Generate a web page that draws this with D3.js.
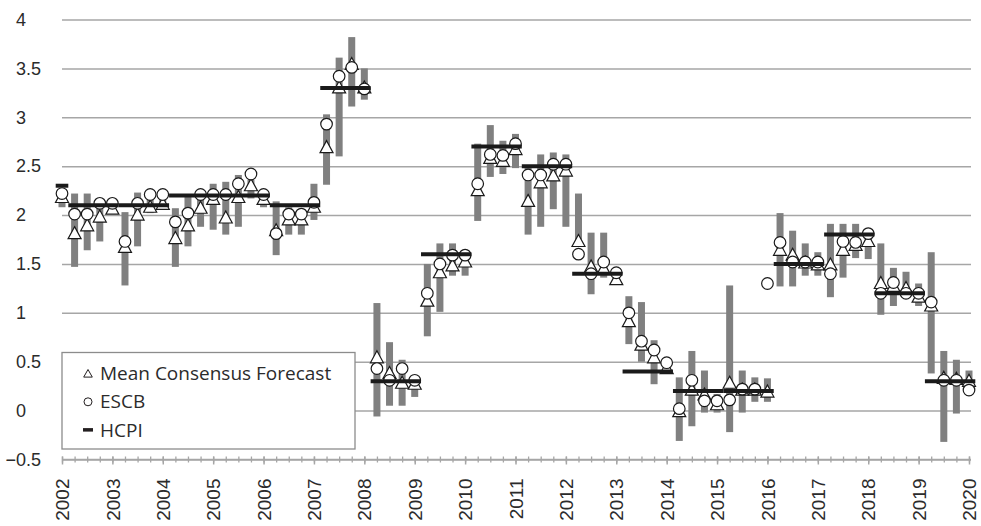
<!DOCTYPE html>
<html>
<head>
<meta charset="utf-8">
<script src="https://cdn.jsdelivr.net/npm/d3@7"></script>
<style>
  body { margin: 0; background: #fff; }
  svg { font-family: "Open Sans", sans-serif; }
</style>
</head>
<body>
<svg id="chart" width="981" height="526"></svg>
<script>
// years shown on the x axis, one forecast per quarter in between
const years = [2002, 2003, 2004, 2005, 2006, 2007, 2008, 2009, 2010, 2011,
  2012, 2013, 2014, 2015, 2016, 2017, 2018, 2019, 2020]
const quarterSteps = [0, 0.25, 0.5, 0.75]
const quarters = years.flatMap((yr) => yr === 2020 ? [yr] : quarterSteps.map((q) => yr + q))

const yTicks = [-0.5, 0, 0.5, 1, 1.5, 2, 2.5, 3, 3.5, 4]

// Mean Consensus Forecast (triangles), 2002Q1 .. 2020Q1
const mcf = [
  2.19, 1.82, 1.90, 1.99, 2.07, 1.68, 2.01, 2.09, 2.12, 1.77, 1.90, 2.08,
  2.17, 1.98, 2.19, 2.31, 2.17, 1.85, 1.96, 1.96, 2.09, 2.70, 3.31, 3.55,
  3.31, 0.55, 0.39, 0.29, 0.28, 1.13, 1.42, 1.49, 1.53, 2.26, 2.59, 2.56,
  2.68, 2.15, 2.34, 2.41, 2.46, 1.74, 1.48, 1.46, 1.35, 0.92, 0.68, 0.55,
  0.44, 0.00, 0.22, 0.17, 0.07, 0.29, 0.22, 0.22, 0.20, 1.65, 1.60, 1.52,
  1.50, 1.50, 1.65, 1.70, 1.74, 1.31, 1.28, 1.26, 1.17, 1.08, 0.34, 0.33,
  0.31
]

// ESCB projections (circles)
const escb = [
  2.22, 2.01, 2.01, 2.12, 2.12, 1.73, 2.12, 2.21, 2.21, 1.93, 2.02, 2.21,
  2.21, 2.21, 2.32, 2.42, 2.21, 1.81, 2.01, 2.01, 2.13, 2.93, 3.42, 3.51,
  3.29, 0.43, 0.31, 0.43, 0.31, 1.20, 1.50, 1.59, 1.59, 2.32, 2.62, 2.61,
  2.73, 2.41, 2.41, 2.52, 2.52, 1.60, 1.40, 1.52, 1.41, 1.00, 0.71, 0.62,
  0.49, 0.02, 0.31, 0.10, 0.10, 0.11, 0.22, 0.22, 1.30, 1.72, 1.52, 1.52,
  1.52, 1.40, 1.73, 1.72, 1.81, 1.20, 1.31, 1.20, 1.20, 1.11, 0.31, 0.31,
  0.21
]

// range of consensus forecasts (grey bars)
const rangeLow = [
  2.08, 1.47, 1.64, 1.73, 2.02, 1.28, 1.68, 2.02, 2.08, 1.47, 1.68, 1.88,
  1.85, 1.80, 1.88, 2.17, 2.08, 1.59, 1.80, 1.80, 1.95, 2.31, 2.60, 3.11,
  3.18, -0.06, 0.05, 0.05, 0.14, 0.76, 1.01, 1.38, 1.38, 1.94, 2.39, 2.42,
  2.48, 1.80, 1.88, 2.06, 1.88, 1.75, 1.19, 1.36, 1.31, 0.68, 0.50, 0.27,
  0.38, -0.31, -0.16, -0.02, -0.02, -0.22, -0.02, 0.09, 0.09, 1.27, 1.27, 1.38,
  1.38, 1.16, 1.36, 1.56, 1.55, 0.98, 1.07, 1.16, 1.07, 0.38, -0.32, -0.03,
  0.19
]
const rangeHigh = [
  2.26, 2.22, 2.22, 2.15, 2.12, 2.03, 2.23, 2.20, 2.20, 2.07, 2.19, 2.18,
  2.32, 2.34, 2.41, 2.36, 2.20, 2.14, 2.08, 2.05, 2.32, 3.03, 3.61, 3.82,
  3.50, 1.10, 0.70, 0.52, 0.35, 1.50, 1.71, 1.71, 1.64, 2.73, 2.92, 2.76,
  2.83, 2.49, 2.62, 2.64, 2.62, 2.22, 1.82, 1.82, 1.42, 1.17, 1.11, 0.72,
  0.50, 0.34, 0.61, 0.41, 0.17, 1.28, 0.41, 0.34, 0.33, 2.02, 1.84, 1.71,
  1.62, 1.91, 1.91, 1.91, 1.83, 1.71, 1.46, 1.42, 1.30, 1.62, 0.61, 0.52,
  0.41
]

// realised HCPI of each target year
const hcpiYears = years
const hcpiValues = [2.3, 2.1, 2.1, 2.2, 2.2, 2.1, 3.3, 0.3, 1.6, 2.7,
  2.5, 1.4, 0.4, 0.2, 0.2, 1.5, 1.8, 1.2, 0.3]

const legendItems = ["Mean Consensus Forecast", "ESCB", "HCPI"]

const data = quarters.map((t, i) => ({
  t: t, mcf: mcf[i], escb: escb[i], lo: rangeLow[i], hi: rangeHigh[i]
}))

const svg = d3.select("#chart")
const left = 62
const gridRight = 971

const x = d3.scaleLinear().domain([2002, 2020]).range([62, 969])
const y = d3.scaleLinear().domain([-0.5, 4]).range([459.5, 19.5])
const halfQ = (x(2002.25) - x(2002)) / 2

/**
 * y grid and tick labels
 */
const yAxis = d3.axisLeft(y)
  .tickValues(yTicks)
  .tickSize(-(gridRight - left))
  .tickFormat((d) => (d < 0 ? "\u2212" + Math.abs(d) : String(d)))

const gY = svg.append("g")
  .attr("transform", `translate(${left},0)`)
  .call(yAxis)
gY.select(".domain").remove()
gY.selectAll(".tick line")
  .attr("stroke", "#a6a6a6")
  .attr("stroke-width", 1.5)
gY.selectAll(".tick text")
  .attr("x", 16 - left)
  .attr("text-anchor", "start")
  .attr("fill", "#2b2b2b")
  .attr("font-size", 18)
  .each(function (d) {
    // let the minus sign hang left of the digits
    if (d < 0) d3.select(this).attr("dx", -this.getSubStringLength(0, 1))
  })

/**
 * legend box (white, it hides the grid behind it)
 */
const legend = svg.append("g")
legend.append("rect")
  .attr("x", left)
  .attr("y", 352.5)
  .attr("width", 293)
  .attr("height", 96.5)
  .attr("fill", "#fff")
  .attr("stroke", "#8c8c8c")
  .attr("stroke-width", 1.3)

const lgY = (i) => 380 + i * 28.3
legend.selectAll(".lg_text")
  .data(legendItems)
  .enter()
  .append("text")
  .attr("class", "lg_text")
  .attr("x", 100)
  .attr("y", (d, i) => lgY(i))
  .attr("font-size", 19)
  .attr("fill", "#2b2b2b")
  .text((d) => d)

legend.append("path")
  .attr("d", "M0,-4L4.3,3.6H-4.3Z")
  .attr("transform", `translate(88,${lgY(0) - 6.5})`)
  .attr("fill", "#fff")
  .attr("stroke", "#231f20")
  .attr("stroke-width", 1)
legend.append("circle")
  .attr("cx", 88)
  .attr("cy", lgY(1) - 6.5)
  .attr("r", 4)
  .attr("fill", "#fff")
  .attr("stroke", "#231f20")
  .attr("stroke-width", 1)
legend.append("rect")
  .attr("x", 83)
  .attr("y", lgY(2) - 8.5)
  .attr("width", 10)
  .attr("height", 3.5)
  .attr("fill", "#231f20")

/**
 * range bars
 */
svg.append("g")
  .selectAll("rect")
  .data(data)
  .enter()
  .append("rect")
  .attr("x", (d) => x(d.t) - 3.5)
  .attr("y", (d) => y(d.hi))
  .attr("width", 7)
  .attr("height", (d) => y(d.lo) - y(d.hi))
  .attr("fill", "#808080")

/**
 * consensus triangles and ESCB circles
 */
svg.append("g")
  .selectAll("path")
  .data(data)
  .enter()
  .append("path")
  .attr("d", "M0,-6L6.5,6H-6.5Z")
  .attr("transform", (d) => `translate(${x(d.t)},${y(d.mcf)})`)
  .attr("fill", "#fff")
  .attr("stroke", "#1a1a1a")
  .attr("stroke-width", 1.2)

svg.append("g")
  .selectAll("circle")
  .data(data)
  .enter()
  .append("circle")
  .attr("cx", (d) => x(d.t))
  .attr("cy", (d) => y(d.escb))
  .attr("r", 5.8)
  .attr("fill", "#fff")
  .attr("stroke", "#1a1a1a")
  .attr("stroke-width", 1.2)

/**
 * HCPI: one line over the four forecast quarters of each target year
 */
svg.append("g")
  .selectAll("line")
  .data(hcpiYears.map((yr, i) => ({ yr: yr, v: hcpiValues[i] })))
  .enter()
  .append("line")
  .attr("x1", (d) => x(Math.max(d.yr - 0.75, 2002)) - halfQ)
  .attr("x2", (d) => x(d.yr) + halfQ)
  .attr("y1", (d) => y(d.v))
  .attr("y2", (d) => y(d.v))
  .attr("stroke", "#1a1a1a")
  .attr("stroke-width", 4)

/**
 * x axis: quarter ticks and rotated year labels
 */
const gX = svg.append("g").attr("transform", `translate(0,${y(-0.5)})`)
gX.append("line")
  .attr("x1", left)
  .attr("x2", gridRight)
  .attr("stroke", "#a6a6a6")
  .attr("stroke-width", 1.5)

const gMinor = gX.append("g")
  .call(d3.axisBottom(x).tickValues(quarters).tickSize(3).tickFormat(""))
gMinor.select(".domain").remove()
gMinor.selectAll(".tick line")
  .attr("y1", -3)
  .attr("y2", 3)
  .attr("stroke", "#a6a6a6")
  .attr("stroke-width", 1.3)

const gYears = gX.append("g")
  .call(d3.axisBottom(x).tickValues(years).tickSize(4).tickFormat(d3.format("d")))
gYears.select(".domain").remove()
gYears.selectAll(".tick line")
  .attr("y1", -3)
  .attr("y2", 5)
  .attr("stroke", "#a6a6a6")
  .attr("stroke-width", 1.5)
gYears.selectAll(".tick text")
  .attr("transform", "rotate(-90)")
  .attr("x", -19)
  .attr("y", 0)
  .attr("dy", "0.35em")
  .attr("text-anchor", "end")
  .attr("font-size", 19)
  .attr("fill", "#2b2b2b")
</script>
</body>
</html>
